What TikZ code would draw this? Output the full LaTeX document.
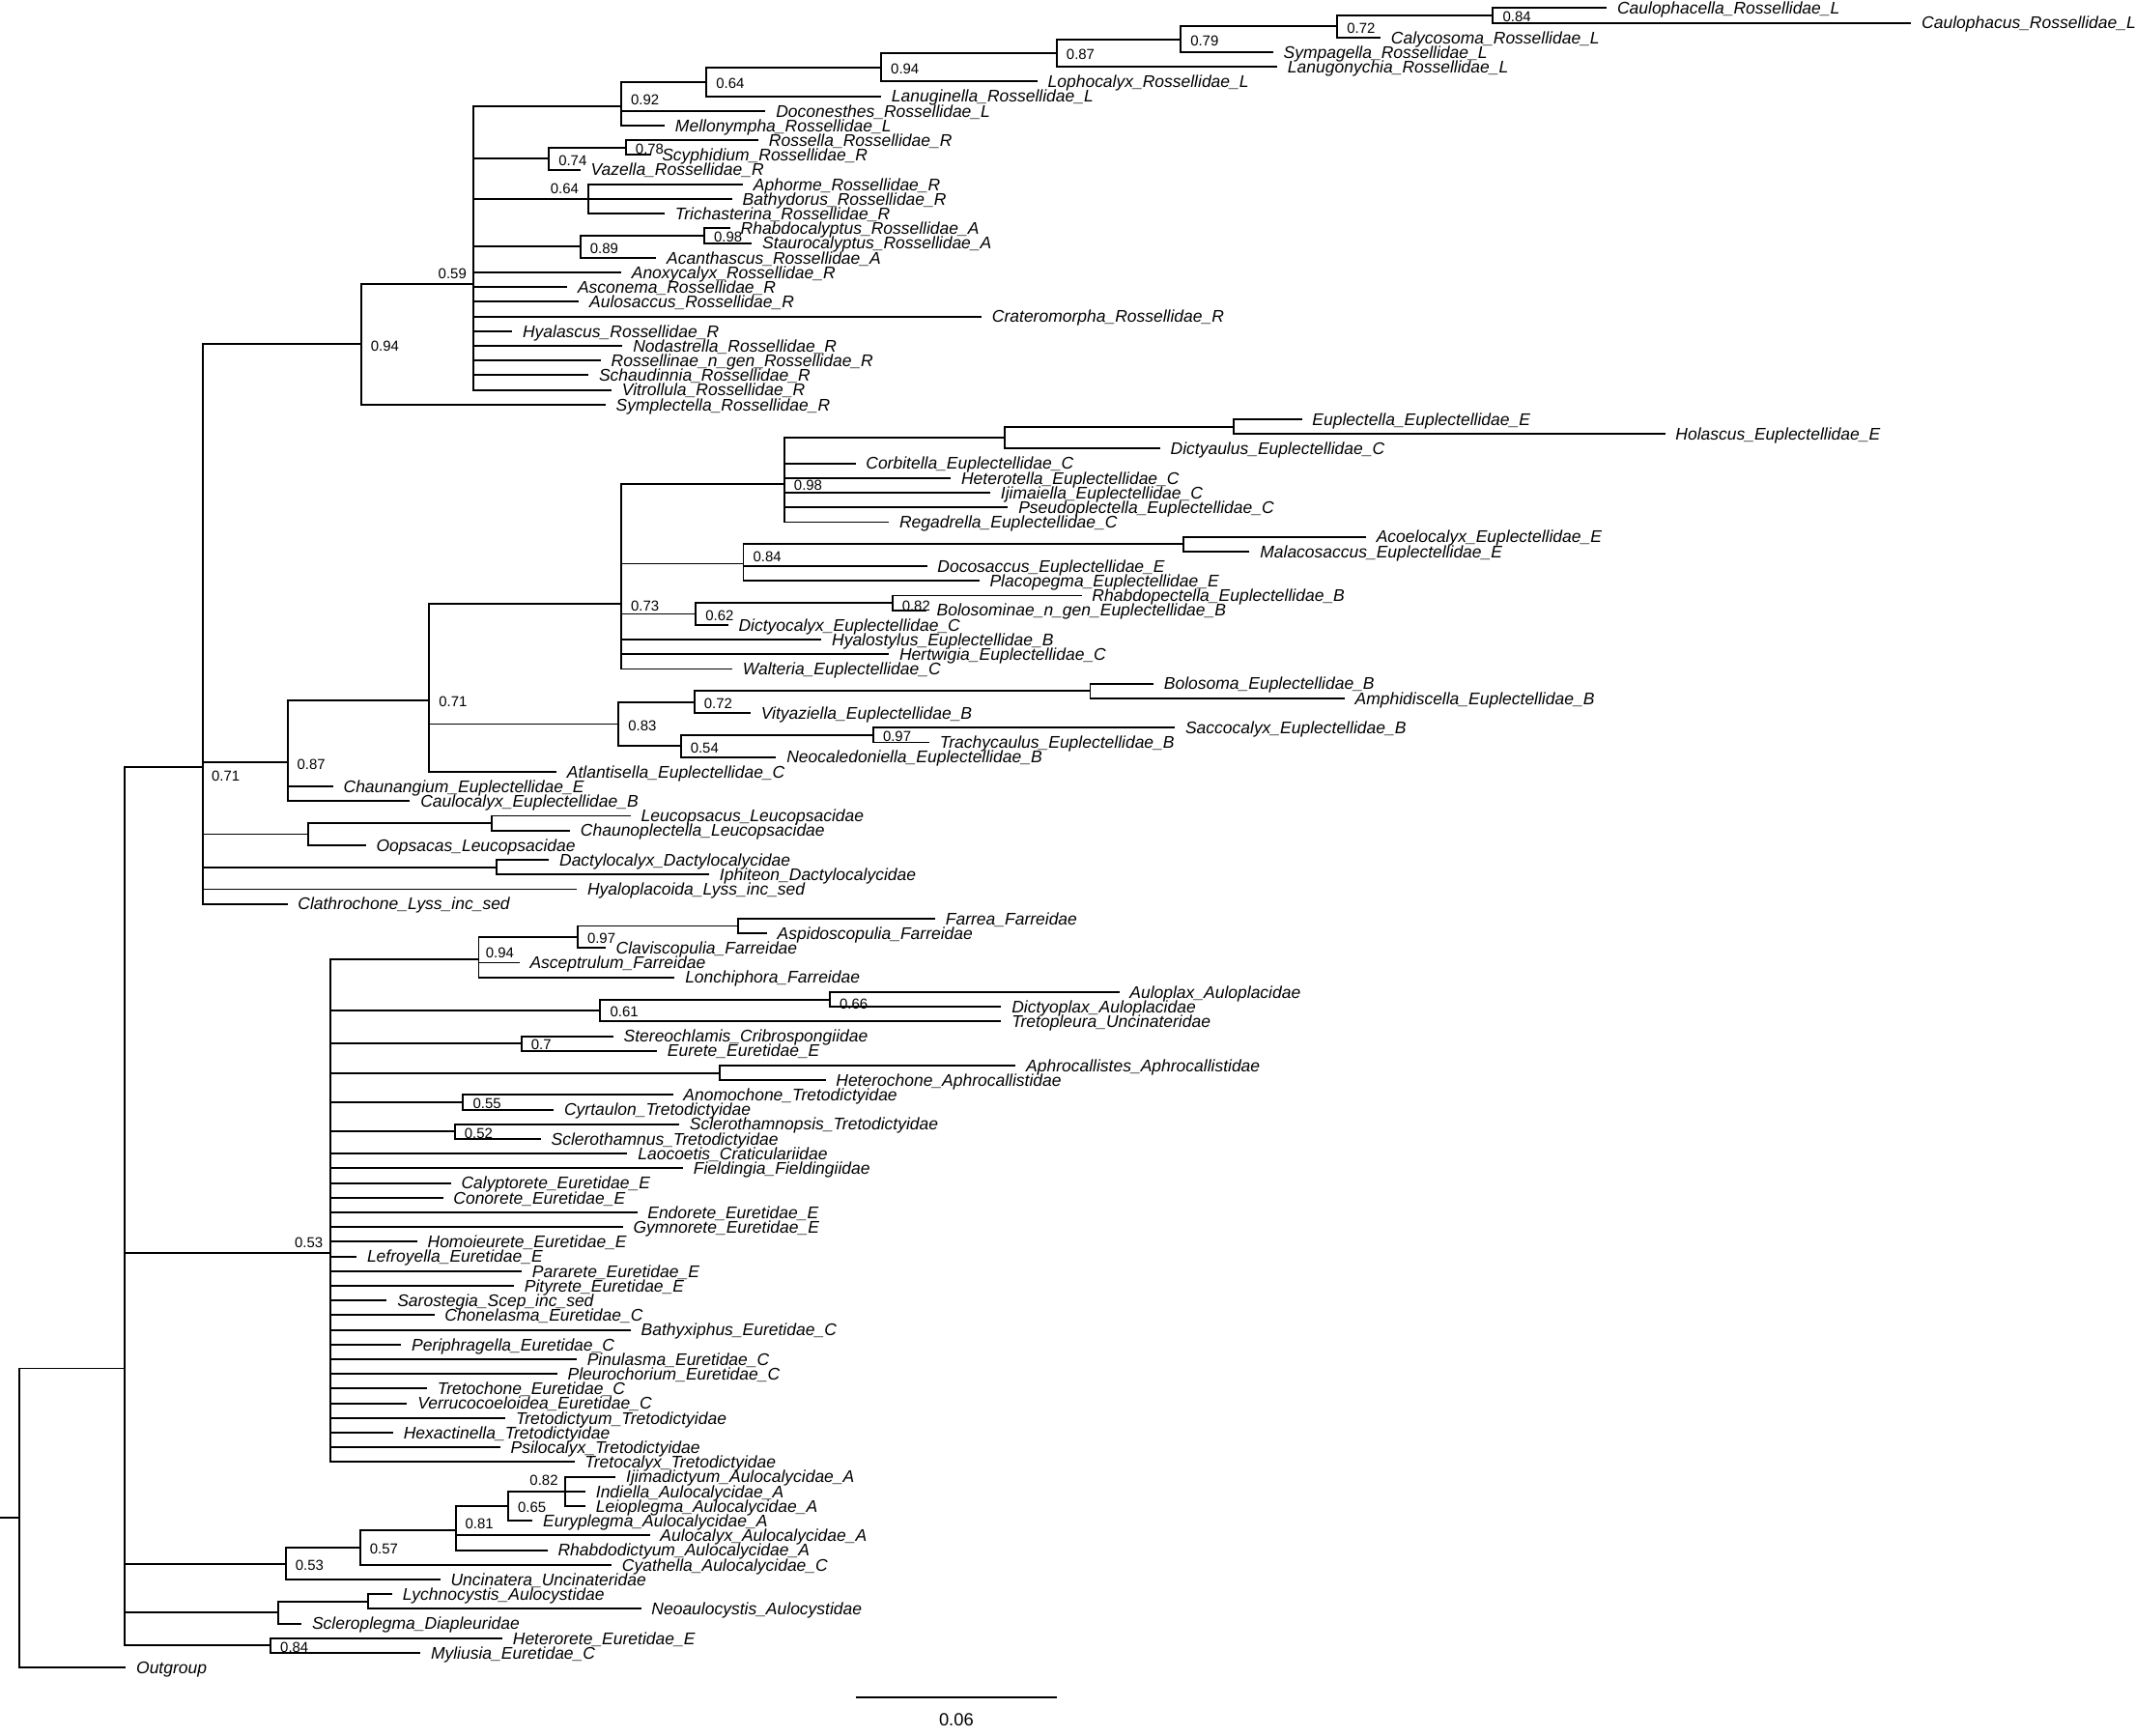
\documentclass[tikz,border=0pt]{standalone}
\usepackage{fontspec}
\setmainfont{Liberation Sans}
\newcommand\tipfont{\fontsize{12.4}{12.4}\selectfont\itshape}
\newcommand\supfont{\fontsize{10.6}{10.6}\selectfont}
\newcommand\scfont{\fontsize{13}{13}\selectfont}
\newcommand\tip[3]{\coordinate (t#1) at (#2,#1); \node[tiplab] (l#1) at (t#1) {#3};}
\newcommand\kids[2]{\foreach \kk in {#2}{\draw[br] (#1) |- (\kk);}}
\newcommand\suplab[3]{\node[supl,#2] (s-#1) at (#1) {#3};}
\begin{document}
\begin{tikzpicture}[x=1pt,y=-10.78pt,
  br/.style={line width=1.4pt},
  tiplab/.style={anchor=west,inner sep=0pt,xshift=7.5pt,font=\tipfont,text height=8.9pt,text depth=0pt},
  supl/.style={inner sep=0pt,font=\supfont,text height=7.6pt,text depth=0pt},
  sr/.style={anchor=west,xshift=7pt,yshift=-1pt},
  sur/.style={anchor=west,xshift=7pt,yshift=5pt},
  sul/.style={anchor=east,xshift=-5pt,yshift=8pt},
  sdr/.style={anchor=west,xshift=6.5pt,yshift=-6.5pt}]
\fill[white] (0,0.4434) rectangle (1568,118.63);
\useasboundingbox (0,0.4434) rectangle (1568,118.63);
% tips
\tip{1}{1179.5}{Caulophacella\_Rossellidae\_L}
\tip{2}{1403}{Caulophacus\_Rossellidae\_L}
\tip{3}{1013.5}{Calycosoma\_Rossellidae\_L}
\tip{4}{934.6}{Sympagella\_Rossellidae\_L}
\tip{5}{937.6}{Lanugonychia\_Rossellidae\_L}
\tip{6}{761.5}{Lophocalyx\_Rossellidae\_L}
\tip{7}{646.8}{Lanuginella\_Rossellidae\_L}
\tip{8}{562}{Doconesthes\_Rossellidae\_L}
\tip{9}{488}{Mellonympha\_Rossellidae\_L}
\tip{10}{556.8}{Rossella\_Rossellidae\_R}
\tip{11}{478.3}{Scyphidium\_Rossellidae\_R}
\tip{12}{426}{Vazella\_Rossellidae\_R}
\tip{13}{545.4}{Aphorme\_Rossellidae\_R}
\tip{14}{537.4}{Bathydorus\_Rossellidae\_R}
\tip{15}{488}{Trichasterina\_Rossellidae\_R}
\tip{16}{536}{Rhabdocalyptus\_Rossellidae\_A}
\tip{17}{552}{Staurocalyptus\_Rossellidae\_A}
\tip{18}{481.8}{Acanthascus\_Rossellidae\_A}
\tip{19}{456}{Anoxycalyx\_Rossellidae\_R}
\tip{20}{416.4}{Asconema\_Rossellidae\_R}
\tip{21}{425}{Aulosaccus\_Rossellidae\_R}
\tip{22}{720.6}{Crateromorpha\_Rossellidae\_R}
\tip{23}{376}{Hyalascus\_Rossellidae\_R}
\tip{24}{457}{Nodastrella\_Rossellidae\_R}
\tip{25}{441}{Rossellinae\_n\_gen\_Rossellidae\_R}
\tip{26}{432}{Schaudinnia\_Rossellidae\_R}
\tip{27}{449}{Vitrollula\_Rossellidae\_R}
\tip{28}{444.5}{Symplectella\_Rossellidae\_R}
\tip{29}{955.7}{Euplectella\_Euplectellidae\_E}
\tip{30}{1222.3}{Holascus\_Euplectellidae\_E}
\tip{31}{851.6}{Dictyaulus\_Euplectellidae\_C}
\tip{32}{628}{Corbitella\_Euplectellidae\_C}
\tip{33}{698}{Heterotella\_Euplectellidae\_C}
\tip{34}{727}{Ijimaiella\_Euplectellidae\_C}
\tip{35}{740}{Pseudoplectella\_Euplectellidae\_C}
\tip{36}{652.6}{Regadrella\_Euplectellidae\_C}
\tip{37}{1002.7}{Acoelocalyx\_Euplectellidae\_E}
\tip{38}{917.3}{Malacosaccus\_Euplectellidae\_E}
\tip{39}{680.5}{Docosaccus\_Euplectellidae\_E}
\tip{40}{718.9}{Placopegma\_Euplectellidae\_E}
\tip{41}{794}{Rhabdopectella\_Euplectellidae\_B}
\tip{42}{680}{Bolosominae\_n\_gen\_Euplectellidae\_B}
\tip{43}{534.5}{Dictyocalyx\_Euplectellidae\_C}
\tip{44}{603}{Hyalostylus\_Euplectellidae\_B}
\tip{45}{652.6}{Hertwigia\_Euplectellidae\_C}
\tip{46}{537.6}{Walteria\_Euplectellidae\_C}
\tip{47}{846.8}{Bolosoma\_Euplectellidae\_B}
\tip{48}{987}{Amphidiscella\_Euplectellidae\_B}
\tip{49}{551}{Vityaziella\_Euplectellidae\_B}
\tip{50}{862.5}{Saccocalyx\_Euplectellidae\_B}
\tip{51}{682.3}{Trachycaulus\_Euplectellidae\_B}
\tip{52}{569.8}{Neocaledoniella\_Euplectellidae\_B}
\tip{53}{408.5}{Atlantisella\_Euplectellidae\_C}
\tip{54}{244.5}{Chaunangium\_Euplectellidae\_E}
\tip{55}{301}{Caulocalyx\_Euplectellidae\_B}
\tip{56}{463}{Leucopsacus\_Leucopsacidae}
\tip{57}{418.5}{Chaunoplectella\_Leucopsacidae}
\tip{58}{268.6}{Oopsacas\_Leucopsacidae}
\tip{59}{403}{Dactylocalyx\_Dactylocalycidae}
\tip{60}{520.6}{Iphiteon\_Dactylocalycidae}
\tip{61}{423.5}{Hyaloplacoida\_Lyss\_inc\_sed}
\tip{62}{211}{Clathrochone\_Lyss\_inc\_sed}
\tip{63}{686.5}{Farrea\_Farreidae}
\tip{64}{563}{Aspidoscopulia\_Farreidae}
\tip{65}{444.5}{Claviscopulia\_Farreidae}
\tip{66}{381.3}{Asceptrulum\_Farreidae}
\tip{67}{495.3}{Lonchiphora\_Farreidae}
\tip{68}{821.6}{Auloplax\_Auloplacidae}
\tip{69}{735}{Dictyoplax\_Auloplacidae}
\tip{70}{735}{Tretopleura\_Uncinateridae}
\tip{71}{450.2}{Stereochlamis\_Cribrospongiidae}
\tip{72}{482.3}{Eurete\_Euretidae\_E}
\tip{73}{745.6}{Aphrocallistes\_Aphrocallistidae}
\tip{74}{606}{Heterochone\_Aphrocallistidae}
\tip{75}{494}{Anomochone\_Tretodictyidae}
\tip{76}{406.5}{Cyrtaulon\_Tretodictyidae}
\tip{77}{498.6}{Sclerothamnopsis\_Tretodictyidae}
\tip{78}{397}{Sclerothamnus\_Tretodictyidae}
\tip{79}{460.6}{Laocoetis\_Craticulariidae}
\tip{80}{501.4}{Fieldingia\_Fieldingiidae}
\tip{81}{331}{Calyptorete\_Euretidae\_E}
\tip{82}{325.2}{Conorete\_Euretidae\_E}
\tip{83}{467.7}{Endorete\_Euretidae\_E}
\tip{84}{457.2}{Gymnorete\_Euretidae\_E}
\tip{85}{306.2}{Homoieurete\_Euretidae\_E}
\tip{86}{261.8}{Lefroyella\_Euretidae\_E}
\tip{87}{383}{Pararete\_Euretidae\_E}
\tip{88}{377.3}{Pityrete\_Euretidae\_E}
\tip{89}{284}{Sarostegia\_Scep\_inc\_sed}
\tip{90}{318.8}{Chonelasma\_Euretidae\_C}
\tip{91}{463}{Bathyxiphus\_Euretidae\_C}
\tip{92}{294.5}{Periphragella\_Euretidae\_C}
\tip{93}{423.3}{Pinulasma\_Euretidae\_C}
\tip{94}{409}{Pleurochorium\_Euretidae\_C}
\tip{95}{313.5}{Tretochone\_Euretidae\_C}
\tip{96}{298.9}{Verrucocoeloidea\_Euretidae\_C}
\tip{97}{371}{Tretodictyum\_Tretodictyidae}
\tip{98}{288.6}{Hexactinella\_Tretodictyidae}
\tip{99}{367.2}{Psilocalyx\_Tretodictyidae}
\tip{100}{421.7}{Tretocalyx\_Tretodictyidae}
\tip{101}{452}{Ijimadictyum\_Aulocalycidae\_A}
\tip{102}{429.8}{Indiella\_Aulocalycidae\_A}
\tip{103}{429.8}{Leioplegma\_Aulocalycidae\_A}
\tip{104}{391}{Euryplegma\_Aulocalycidae\_A}
\tip{105}{477}{Aulocalyx\_Aulocalycidae\_A}
\tip{106}{401.9}{Rhabdodictyum\_Aulocalycidae\_A}
\tip{107}{449}{Cyathella\_Aulocalycidae\_C}
\tip{108}{323.2}{Uncinatera\_Uncinateridae}
\tip{109}{288}{Lychnocystis\_Aulocystidae}
\tip{110}{470.6}{Neoaulocystis\_Aulocystidae}
\tip{111}{221.4}{Scleroplegma\_Diapleuridae}
\tip{112}{368.8}{Heterorete\_Euretidae\_E}
\tip{113}{308.6}{Myliusia\_Euretidae\_C}
\tip{114}{92.4}{Outgroup}
% internal nodes
\coordinate (rootstub) at (0,103.8);
\coordinate (root) at (14.2,103.8);
\coordinate (IG) at (91.5,93.63);
\coordinate (A) at (148.7,52.67);
\coordinate (R) at (265,23.89);
\coordinate (B) at (347.6,19.78);
\coordinate (n092) at (456,7.67);
\coordinate (n064a) at (518.6,6.016);
\coordinate (n094a) at (646.8,5.03);
\coordinate (n087) at (775.7,4.0625);
\coordinate (n079) at (866.7,3.125);
\coordinate (n072a) at (981.6,2.25);
\coordinate (n084a) at (1096,1.5);
\coordinate (n074) at (402.9,11.25);
\coordinate (n078) at (459.4,10.5);
\coordinate (n064b) at (432,14);
\coordinate (n089) at (426,17.25);
\coordinate (n098a) at (517,16.5);
\coordinate (E) at (211,52.37);
\coordinate (F) at (315,48.11);
\coordinate (G) at (456,41.576);
\coordinate (H) at (575.7,33.375);
\coordinate (I) at (737.6,30.25);
\coordinate (J) at (905.7,29.5);
\coordinate (n084b) at (545.7,38.83);
\coordinate (K) at (868.4,37.5);
\coordinate (n062) at (510.7,42.25);
\coordinate (L) at (655,41.5);
\coordinate (n083) at (454,49.75);
\coordinate (M) at (509.7,48.25);
\coordinate (N) at (800.3,47.5);
\coordinate (n054) at (499.7,51.25);
\coordinate (O) at (641,50.5);
\coordinate (P) at (226.3,57.25);
\coordinate (Q) at (360.9,56.5);
\coordinate (DA) at (364.6,59.5);
\coordinate (S) at (242.2,85.79);
\coordinate (n094c) at (351.4,65.75);
\coordinate (n097b) at (424,64.25);
\coordinate (T) at (541.8,63.5);
\coordinate (n061) at (440.7,69.25);
\coordinate (n066) at (609.2,68.5);
\coordinate (n07) at (382.8,71.5);
\coordinate (AP) at (528.6,73.5);
\coordinate (n055) at (340,75.5);
\coordinate (n052) at (333.8,77.5);
\coordinate (U) at (209.7,106.92);
\coordinate (V) at (264.3,105.83);
\coordinate (W) at (334.4,104.67);
\coordinate (X) at (373,103);
\coordinate (Y) at (414.8,102);
\coordinate (Z) at (204.2,110.25);
\coordinate (AA) at (270,109.5);
\coordinate (BB) at (198.6,112.5);
% edges
\draw[br] (rootstub) -- (root);
\kids{root}{IG,t114}
\kids{IG}{A,S,U,Z,BB}
\kids{A}{R,E,P,DA,t61,t62}
\kids{R}{B,t28}
\kids{B}{n092,n074,n064b,n089}
\foreach \i in {19,...,27}{\draw[br] (B) |- (t\i);}
\kids{n092}{n064a,t8,t9}
\kids{n064a}{n094a,t7}
\kids{n094a}{n087,t6}
\kids{n087}{n079,t5}
\kids{n079}{n072a,t4}
\kids{n072a}{n084a,t3}
\kids{n084a}{t1,t2}
\kids{n074}{n078,t12}
\kids{n078}{t10,t11}
\kids{n064b}{t13,t14,t15}
\kids{n089}{n098a,t18}
\kids{n098a}{t16,t17}
\kids{E}{F,t54,t55}
\kids{F}{G,n083,t53}
\kids{G}{H,n084b,n062,t44,t45,t46}
\kids{H}{I,t32,t33,t34,t35,t36}
\kids{I}{J,t31}
\kids{J}{t29,t30}
\kids{n084b}{K,t39,t40}
\kids{K}{t37,t38}
\kids{n062}{L,t43}
\kids{L}{t41,t42}
\kids{n083}{M,n054}
\kids{M}{N,t49}
\kids{N}{t47,t48}
\kids{n054}{O,t52}
\kids{O}{t50,t51}
\kids{P}{Q,t58}
\kids{Q}{t56,t57}
\kids{DA}{t59,t60}
\kids{S}{n094c,n061,n07,AP,n055,n052}
\foreach \i in {79,...,100}{\draw[br] (S) |- (t\i);}
\kids{n094c}{n097b,t66,t67}
\kids{n097b}{T,t65}
\kids{T}{t63,t64}
\kids{n061}{n066,t70}
\kids{n066}{t68,t69}
\kids{n07}{t71,t72}
\kids{AP}{t73,t74}
\kids{n055}{t75,t76}
\kids{n052}{t77,t78}
\kids{U}{V,t108}
\kids{V}{W,t107}
\kids{W}{X,t105,t106}
\kids{X}{Y,t104}
\kids{Y}{t101,t102,t103}
\kids{Z}{AA,t111}
\kids{AA}{t109,t110}
\kids{BB}{t112,t113}
% support values
\suplab{n084a}{sr}{0.84}
\suplab{n072a}{sr}{0.72}
\suplab{n079}{sr}{0.79}
\suplab{n087}{sr}{0.87}
\suplab{n094a}{sr}{0.94}
\suplab{n064a}{sr}{0.64}
\suplab{n092}{sur}{0.92}
\suplab{n078}{sr}{0.78}
\suplab{n074}{sr}{0.74}
\suplab{n064b}{sul,xshift=-2pt}{0.64}
\suplab{n098a}{sr}{0.98}
\suplab{n089}{sr}{0.89}
\suplab{B}{sul}{0.59}
\suplab{R}{sr}{0.94}
\suplab{A}{sdr}{0.71}
\suplab{E}{sr}{0.87}
\suplab{F}{sr}{0.71}
\suplab{G}{sr}{0.73}
\suplab{H}{sr}{0.98}
\suplab{n084b}{sur}{0.84}
\suplab{L}{sr,yshift=-1.5pt}{0.82}
\suplab{n062}{sr}{0.62}
\suplab{M}{sr}{0.72}
\suplab{O}{sr}{0.97}
\suplab{n054}{sr}{0.54}
\suplab{n083}{sr}{0.83}
\suplab{n097b}{sr}{0.97}
\suplab{n094c}{sur,xshift=-2pt}{0.94}
\suplab{n066}{sr,yshift=-2pt}{0.66}
\suplab{n061}{sr}{0.61}
\suplab{n07}{sr}{0.7}
\suplab{n055}{sr}{0.55}
\suplab{n052}{sr}{0.52}
\suplab{S}{sul}{0.53}
\suplab{Y}{sul}{0.82}
\suplab{X}{sr}{0.65}
\suplab{W}{sur}{0.81}
\suplab{V}{sr}{0.57}
\suplab{U}{sr}{0.53}
\suplab{BB}{sr}{0.84}
% scale bar
\coordinate (sbA) at (628,116.03);
\coordinate (sbB) at (776,116.03);
\draw[br] (sbA) -- (sbB);
\node[inner sep=0pt,font=\scfont,text height=9.3pt,text depth=0pt] (sblab) at (702,117.51) {0.06};
\end{tikzpicture}
\end{document}
